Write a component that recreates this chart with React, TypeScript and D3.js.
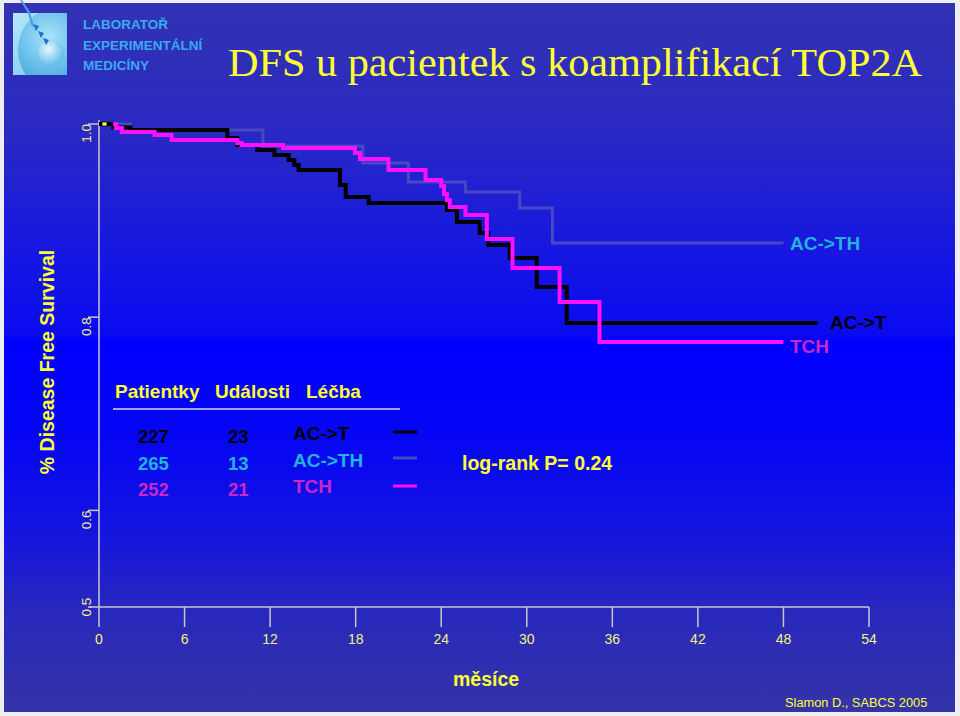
import React from "react";
import * as d3 from "d3";

// ---- data ----
const xTicks = [0, 6, 12, 18, 24, 30, 36, 42, 48, 54];
const yTicks = [1.0, 0.8, 0.6, 0.5];

// AC->T (black): [month, survival]
const acT: [number, number][] = [
  [0, 1.0], [1.0, 0.9965], [2.2, 0.9938], [9.0, 0.9855], [9.7, 0.9783], [11.1, 0.9731],
  [12.3, 0.9679], [13.3, 0.9627], [13.7, 0.9576], [14.0, 0.9524], [16.9, 0.9369],
  [17.3, 0.9244], [18.9, 0.9182], [24.4, 0.911], [25.1, 0.8986], [26.7, 0.8872],
  [27.3, 0.8747], [28.8, 0.8613], [30.7, 0.8313], [32.8, 0.794], [50.4, 0.794],
];
// AC->TH (grey-blue)
const acTH: [number, number][] = [
  [0, 1.0], [2.2, 0.9938], [11.5, 0.9772], [18.5, 0.9596], [21.7, 0.94],
  [25.7, 0.9296], [29.5, 0.913], [31.8, 0.8768], [48.0, 0.8768],
];
// TCH (magenta)
const tch: [number, number][] = [
  [1.0, 1.0], [1.2, 0.9959], [1.6, 0.9917], [3.9, 0.9886], [5.1, 0.9834],
  [9.7, 0.9803], [10.0, 0.9783], [12.9, 0.9752], [17.95, 0.97], [18.3, 0.9638],
  [20.3, 0.9524], [22.9, 0.942], [24.0, 0.9358], [24.2, 0.9275], [24.4, 0.9213],
  [24.6, 0.9141], [25.7, 0.9058], [27.2, 0.881], [29.0, 0.8509], [32.3, 0.8157],
  [35.1, 0.7743], [48.0, 0.7743],
];

const tablePatients = ["227", "265", "252"];
const tableEvents = ["23", "13", "21"];
const tableTreatment = ["AC->T", "AC->TH", "TCH"];
const textColors = ["#000000", "#22b4dc", "#c828c8"];
const lineColors = ["#000000", "#4848c4", "#ff10ff"];

const W = 960;
const H = 716;

export default function App() {
  const x = d3.scaleLinear().domain([0, 54]).range([99, 869]);
  const y = d3.scaleLinear().domain([0.5, 1]).range([607, 124]);
  const line = d3
    .line<[number, number]>()
    .x((d) => x(d[0]))
    .y((d) => y(d[1]))
    .curve(d3.curveStepAfter);

  const yellow = "#ffff33";
  const paleYellow = "#f2f27e";
  const axisGrey = "#c8c8c8";
  const sans = "'Liberation Sans', Arial, sans-serif";

  const rowBase = [443, 470, 496];
  const legendLineY = [432, 458, 486];

  return (
    <svg
      width={W}
      height={H}
      style={{ position: "absolute", left: 0, top: 0, display: "block" }}
    >
      <defs>
        <linearGradient id="bg" x1="0" y1="0" x2="0" y2="1">
          <stop offset="0" stopColor="#3232b2" />
          <stop offset="0.17" stopColor="#2a2ac2" />
          <stop offset="0.32" stopColor="#1a1adc" />
          <stop offset="0.468" stopColor="#0a0af2" />
          <stop offset="0.475" stopColor="#0000ff" />
          <stop offset="0.62" stopColor="#0606f4" />
          <stop offset="0.76" stopColor="#1616dc" />
          <stop offset="0.86" stopColor="#2828bc" />
          <stop offset="1" stopColor="#3434a8" />
        </linearGradient>
        <linearGradient id="logoBg" x1="0" y1="0" x2="1" y2="1">
          <stop offset="0" stopColor="#b8e6fb" />
          <stop offset="1" stopColor="#6cc4ee" />
        </linearGradient>
        <radialGradient id="bigSphere" cx="0.35" cy="0.35" r="0.7">
          <stop offset="0" stopColor="#a8e2fb" />
          <stop offset="1" stopColor="#2a9ad8" />
        </radialGradient>
        <radialGradient id="smallSphere" cx="0.4" cy="0.35" r="0.7">
          <stop offset="0" stopColor="#e6f8ff" />
          <stop offset="1" stopColor="#58b8ea" />
        </radialGradient>
        <clipPath id="logoClip">
          <rect x={13} y={13} width={54} height={62} />
        </clipPath>
      </defs>

      <rect x={0} y={0} width={W} height={H} fill="#eeeef2" />
      <rect x={4} y={3} width={951} height={709} fill="url(#bg)" />

      {/* logo */}
      <g clipPath="url(#logoClip)">
        <rect x={13} y={13} width={54} height={62} fill="url(#logoBg)" />
        <circle cx={62} cy={50} r={44} fill="url(#bigSphere)" />
        <circle cx={51} cy={53} r={13} fill="url(#smallSphere)" />
      </g>
      <g fill="#1f6fd0">
        <path d="M22 0 L30 12 L34 26 L32 27 L28 13 L20 0 Z" fill="#4aa0e0" />
        <path d="M33 24 l6 2 l-3 5 z" />
        <path d="M38 31 l6 2 l-3 5 z" />
        <path d="M43 38 l6 2 l-3 5 z" />
      </g>
      <g fontFamily={sans} fontWeight="bold" fontSize={13.5} fill="#3aaaf0">
        <text x={83} y={29}>LABORATOŘ</text>
        <text x={83} y={50}>EXPERIMENTÁLNÍ</text>
        <text x={83} y={70}>MEDICÍNY</text>
      </g>

      {/* title */}
      <text
        x={228}
        y={76}
        fontFamily="'Liberation Serif', 'Times New Roman', serif"
        fontSize={41}
        fill={yellow}
        textLength={694}
        lengthAdjust="spacingAndGlyphs"
      >
        DFS u pacientek s koamplifikací TOP2A
      </text>

      {/* y axis label */}
      <text
        transform="translate(54,362) rotate(-90)"
        textAnchor="middle"
        fontFamily={sans}
        fontWeight="bold"
        fontSize={19.5}
        fill={yellow}
      >
        % Disease Free Survival
      </text>

      {/* axes */}
      <line x1={x(0)} x2={x(0)} y1={120} y2={y(0.5)} stroke={axisGrey} strokeWidth={1.5} />
      <line x1={x(0)} x2={x(54)} y1={y(0.5)} y2={y(0.5)} stroke={axisGrey} strokeWidth={1.5} />
      {yTicks.map((t) => (
        <g key={t}>
          <line x1={88} x2={x(0)} y1={y(t)} y2={y(t)} stroke={axisGrey} strokeWidth={1.5} />
          <text
            transform={`translate(91,${y(t)}) rotate(-90)`}
            textAnchor={t === 0.5 ? "middle" : "end"}
            fontFamily={sans}
            fontSize={13.5}
            fill={paleYellow}
          >
            {t.toFixed(1)}
          </text>
        </g>
      ))}
      {xTicks.map((t) => (
        <g key={t}>
          <line x1={x(t)} x2={x(t)} y1={y(0.5)} y2={y(0.5) + 20} stroke={axisGrey} strokeWidth={1.5} />
          <text x={x(t)} y={644} textAnchor="middle" fontFamily={sans} fontSize={14} fill={paleYellow}>
            {t}
          </text>
        </g>
      ))}
      <text x={453} y={686} fontFamily={sans} fontWeight="bold" fontSize={19.5} fill={yellow}>
        měsíce
      </text>

      {/* curves */}
      <path d={line(acTH) ?? ""} fill="none" stroke={lineColors[1]} strokeWidth={3} />
      <path d={line(acT) ?? ""} fill="none" stroke={lineColors[0]} strokeWidth={4} />
      <path d={line(tch) ?? ""} fill="none" stroke={lineColors[2]} strokeWidth={4} />
      <rect x={x(0) + 3} y={y(1) - 2} width={5} height={4} fill="#ffff40" stroke="#000" strokeWidth={0.8} />

      {/* curve end labels */}
      <g fontFamily={sans} fontWeight="bold" fontSize={19}>
        <text x={790} y={250} fill={textColors[1]}>AC-&gt;TH</text>
        <text x={830} y={329} fill={textColors[0]}>AC-&gt;T</text>
        <text x={790} y={353} fill={textColors[2]}>TCH</text>
      </g>

      {/* legend table */}
      <g fontFamily={sans} fontWeight="bold" fontSize={19} fill={yellow}>
        <text x={115} y={398}>Patientky</text>
        <text x={215} y={398}>Události</text>
        <text x={306} y={398}>Léčba</text>
      </g>
      <line x1={113} x2={400} y1={409} y2={409} stroke="#d8d8e8" strokeWidth={1.5} />
      {tablePatients.map((p, i) => (
        <g key={p} fontFamily={sans} fontWeight="bold" fill={textColors[i]}>
          <text x={138} y={rowBase[i]} fontSize={18.5}>{p}</text>
          <text x={228} y={rowBase[i]} fontSize={18.5}>{tableEvents[i]}</text>
          <text x={293} y={rowBase[i] - 3} fontSize={19}>{tableTreatment[i]}</text>
          <line x1={393} x2={417} y1={legendLineY[i]} y2={legendLineY[i]} stroke={lineColors[i]} strokeWidth={3} />
        </g>
      ))}
      <text x={462} y={470} fontFamily={sans} fontWeight="bold" fontSize={19.5} fill={yellow}>
        log-rank P= 0.24
      </text>

      <text x={785} y={707} fontFamily={sans} fontSize={12.8} fill={yellow}>
        Slamon D., SABCS 2005
      </text>
    </svg>
  );
}
